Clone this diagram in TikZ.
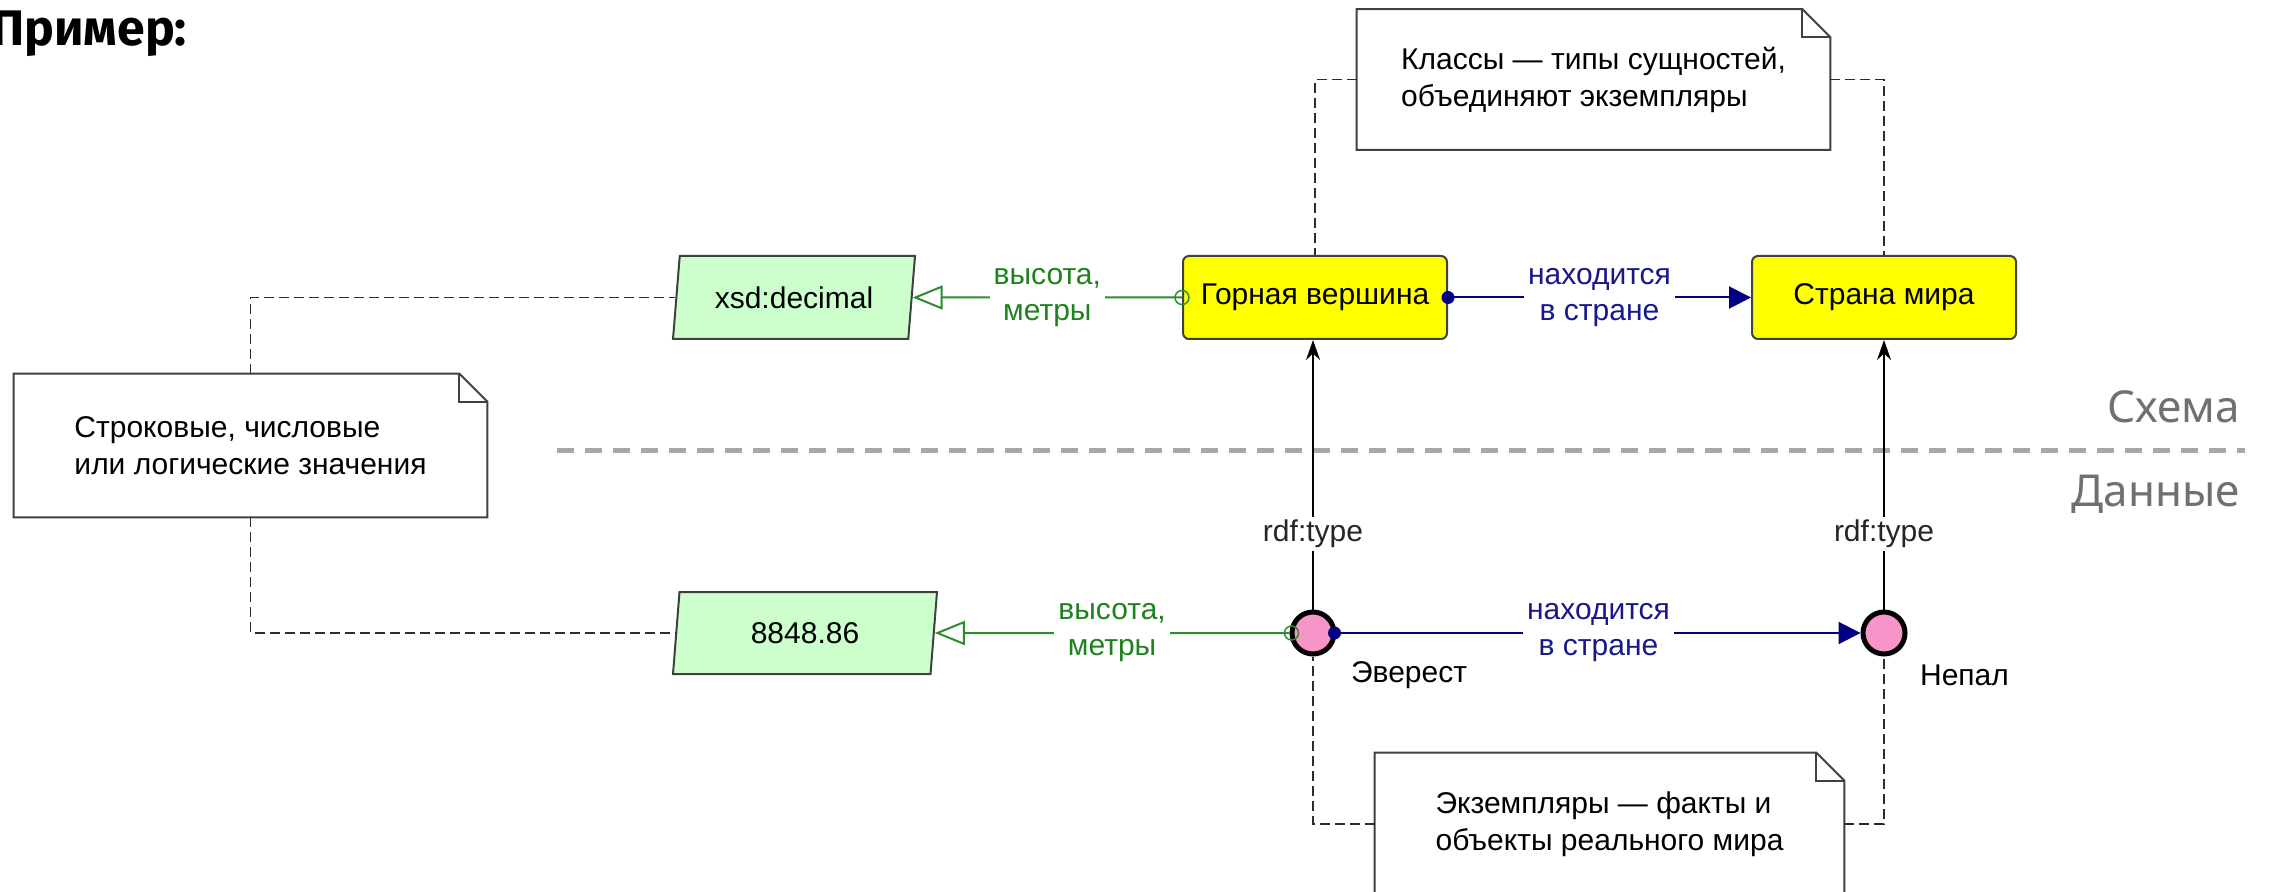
\documentclass[tikz,border=0pt]{standalone}
\usepackage{fontspec}
\setmainfont{Liberation Sans}
\newfontfamily\headfont{Noto Sans}
\newfontfamily\titlefont{Fira Sans Bold}
\usetikzlibrary{arrows.meta,shapes.geometric,calc}
\definecolor{boxyellow}{RGB}{255,255,0}
\definecolor{litgreen}{RGB}{204,255,204}
\definecolor{instpink}{RGB}{247,148,200}
\definecolor{boxborder}{RGB}{64,64,64}
\definecolor{navyc}{RGB}{0,0,128}
\definecolor{navytext}{RGB}{24,24,140}
\definecolor{linkgreen}{RGB}{46,140,46}
\definecolor{labelgreen}{RGB}{30,130,30}
\definecolor{notegray}{RGB}{45,45,45}
\definecolor{sepgray}{RGB}{168,168,168}
\definecolor{headgray}{RGB}{112,112,112}
\begin{document}
\begin{tikzpicture}[x=0.5pt,y=-0.5pt,font=\fontsize{15pt}{18pt}\selectfont]
\tikzset{
  classbox/.style={draw=boxborder, fill=boxyellow, line width=1pt, rounded corners=3pt,
    minimum width=132pt, minimum height=41.5pt, inner sep=0pt},
  litbox/.style={trapezium, trapezium left angle=73, trapezium right angle=107,
    trapezium stretches body=true, draw=boxborder, fill=litgreen, line width=1pt,
    minimum height=41.5pt, inner sep=0pt},
  inst/.style={circle, draw=black, fill=instpink, line width=2.5pt, minimum size=21pt, inner sep=0pt},
  notebox/.style={fill=white, minimum width=236.5pt, minimum height=70pt, align=left, inner sep=0pt,
    font=\fontsize{15pt}{18.5pt}\selectfont},
  noteline/.style={draw=boxborder, line width=1pt},
  notelink/.style={draw=notegray, line width=0.8pt, dash pattern=on 5pt off 2.5pt},
  datalink/.style={draw=linkgreen, line width=1pt, -{Triangle[open, length=15pt, width=12pt, fill=white]}},
  objlink/.style={draw=navyc, line width=1pt, -{Triangle[length=11pt, width=11pt]}},
  typelink/.style={draw=black, line width=1pt, -{Stealth[length=10pt, width=7pt]}},
  greenlabel/.style={fill=white, text=labelgreen, align=center, inner sep=2pt},
  navylabel/.style={fill=white, text=navytext, align=center, inner sep=2pt},
  typelabel/.style={fill=white, text=black!85, inner sep=1.5pt},
  headlabel/.style={text=headgray, font=\headfont\fontsize{22pt}{26pt}\selectfont},
}
\useasboundingbox (0,0) rectangle (2274,892);

% title
\node[anchor=base east, font=\titlefont\fontsize{25pt}{29pt}\selectfont] (title) at (194,46) {Пример:};

% separator
\draw[sepgray, line width=2.5pt, dash pattern=on 8.5pt off 5.5pt] (557,451) -- (2245,451);
\node[headlabel, anchor=base east] (schema) at (2247,423) {Схема};
\node[headlabel, anchor=base east] (data) at (2247,507) {Данные};

% class boxes
\node[classbox] (peak) at (1315,297.5) {Горная вершина};
\node[classbox] (country) at (1884,297.5) {Страна мира};

% literal boxes
\node[litbox, minimum width=121pt] (xsd) at (794,297.5) {xsd:decimal};
\node[litbox, minimum width=132pt, minimum height=41pt] (val) at (805,633) {8848.86};

% instances
\node[inst] (ev) at (1313,633) {};
\node[inst] (np) at (1884,633) {};
\node[anchor=west] (evname) at (1344,675) {Эверест};
\node[anchor=west] (npname) at (1913,675) {Непал};

% notes
\node[notebox] (tnote) at (1593.5,79.5) {Классы — типы сущностей,\\объединяют экземпляры};
\node[notebox, minimum height=71.5pt] (lnote) at (250.5,445.5) {Строковые, числовые\\или логические значения};
\node[notebox, minimum width=234.5pt, minimum height=71pt] (bnote) at (1609.5,824) {Экземпляры — факты и\\объекты реального мира};
\foreach \n in {tnote,lnote,bnote}{
  \draw[noteline] (\n.south west) -- (\n.north west) -- ([xshift=-14pt]\n.north east)
    -- ([yshift=-14pt]\n.north east) -- (\n.south east) -- cycle;
  \draw[noteline] ([xshift=-14pt]\n.north east) -- ++(0,28) -- ++(28,0);
}

% note links
\draw[notelink] (tnote.west) -| (peak.north);
\draw[notelink] (tnote.east) -| (country.north);
\draw[notelink] (lnote.north) |- (xsd.west);
\draw[notelink] (lnote.south) |- (val.west);
\draw[notelink] (bnote.west) -| (ev.south);
\draw[notelink] (bnote.east) -| (np.south);

% data properties
\draw[datalink] (peak.west) -- node[greenlabel] {высота,\\метры} (xsd.east);
\draw[datalink] (ev.west) -- node[greenlabel] {высота,\\метры} (val.east);
\draw[linkgreen, line width=0.75pt] (peak.west) circle (3.5pt);
\draw[linkgreen, line width=0.75pt] ([xshift=1pt]ev.west) circle (3.5pt);

% object properties
\draw[objlink] (peak.east) -- node[navylabel] {находится\\в стране} (country.west);
\draw[objlink] (ev.east) -- node[navylabel] {находится\\в стране} (np.west);
\fill[navyc] (peak.east) circle (3.25pt);
\fill[navyc] ([xshift=-1pt]ev.east) circle (3.25pt);

% rdf:type
\draw[typelink] (ev.north) -- node[typelabel, pos=0.28] {rdf:type} (ev.north |- peak.south);
\draw[typelink] (np.north) -- node[typelabel, pos=0.28] {rdf:type} (np.north |- country.south);
\end{tikzpicture}
\end{document}
